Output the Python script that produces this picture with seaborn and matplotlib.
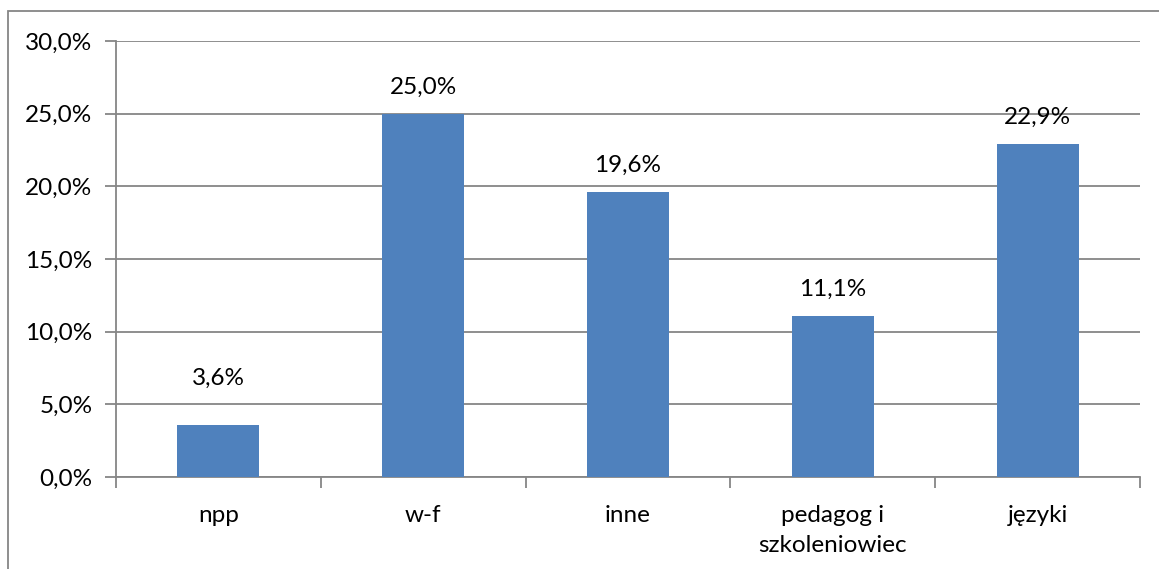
import matplotlib
matplotlib.use("Agg")
import matplotlib.pyplot as plt
import matplotlib.patches as mpatches
import seaborn as sns
import pandas as pd

categories = ["npp", "w-f", "inne", "pedagog i\nszkoleniowiec", "języki"]
values = [3.6, 25.0, 19.6, 11.1, 22.9]
y_ticks = [0, 5, 10, 15, 20, 25, 30]

sns.set_theme(style="white")
plt.rcParams["font.family"] = ["Lato", "DejaVu Sans"]

df = pd.DataFrame({"kategoria": categories, "wartosc": values})

FS = 17.5
W, H = 1159, 569
fig = plt.figure(figsize=(W / 100, H / 100), dpi=100)
ax = fig.add_axes([116 / W, 1 - 477 / H, (1140 - 116) / W, (477 - 41) / H])

grid_col = "#868686"
sns.barplot(data=df, x="kategoria", y="wartosc", color="#4F81BD",
            width=0.4, saturation=1, linewidth=0, ax=ax, zorder=3)

ax.set_xlim(-0.5, len(categories) - 0.5)
ax.set_ylim(0, 30)
ax.set_yticks(y_ticks)
ax.set_yticklabels([f"{v:.1f}%".replace(".", ",") for v in y_ticks])
ax.yaxis.grid(True, color=grid_col, linewidth=1.3, zorder=0)
ax.set_axisbelow(True)

# category boundary ticks on the x axis
ax.set_xticks([i - 0.5 for i in range(len(categories) + 1)], minor=False)
ax.set_xticklabels([])
ax.set_xticks(range(len(categories)), minor=True)
ax.set_xticklabels(categories, minor=True, linespacing=1.55)
ax.tick_params(axis="x", which="major", direction="out", length=8,
               width=1.3, color=grid_col, bottom=True)
ax.tick_params(axis="x", which="minor", length=0, pad=20, labelsize=FS,
               labelcolor="black")
ax.tick_params(axis="y", direction="out", length=8, width=1.3,
               color=grid_col, left=True, labelsize=FS, pad=9,
               labelcolor="black")

ax.set_xlabel("")
ax.set_ylabel("")
for side in ["top", "right"]:
    ax.spines[side].set_visible(False)
for side in ["left", "bottom"]:
    ax.spines[side].set_color(grid_col)
    ax.spines[side].set_linewidth(1.3)

# value labels sit above the bar, kept clear of the lowest gridline
for i, v in enumerate(values):
    ax.annotate(f"{v:.1f}%".replace(".", ","), xy=(i, max(v, 5.0)),
                xytext=(0, 19), textcoords="offset points",
                ha="center", va="center", fontsize=FS, color="black")

# chart area frame
fig.patches.append(mpatches.Rectangle((8 / W, -0.1), 1.2, 1 - 11 / H + 0.1,
                                      transform=fig.transFigure, fill=False,
                                      edgecolor=grid_col, linewidth=1.3))

fig.savefig("out.png", dpi=100)
